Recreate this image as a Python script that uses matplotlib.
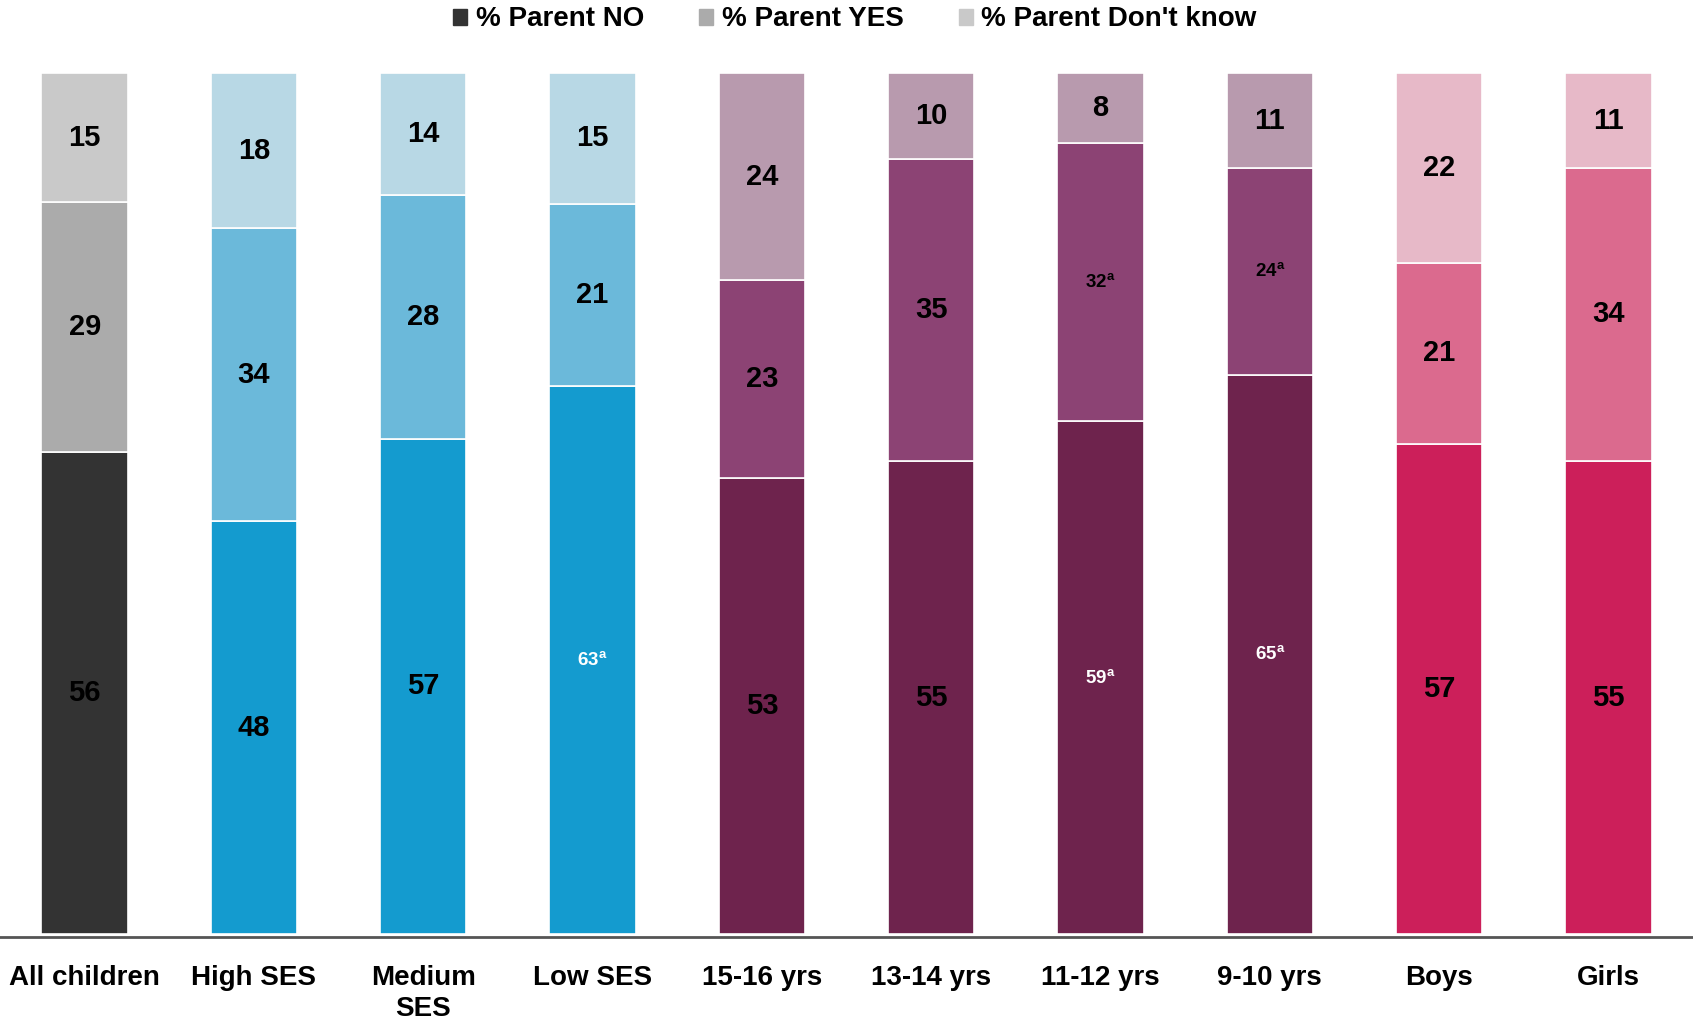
import numpy as np
import matplotlib
matplotlib.use("Agg")
import matplotlib.pyplot as plt
from matplotlib.patches import Patch

plt.rcParams["font.family"] = ["Liberation Sans", "DejaVu Sans"]
plt.rcParams["mathtext.fontset"] = "custom"
plt.rcParams["mathtext.rm"] = "Liberation Sans:bold"
plt.rcParams["mathtext.it"] = "Liberation Sans:bold"
plt.rcParams["mathtext.bf"] = "Liberation Sans:bold"

groups = ["All children", "High SES", "Medium\nSES", "Low SES", "15-16 yrs",
          "13-14 yrs", "11-12 yrs", "9-10 yrs", "Boys", "Girls"]
parent_no = [56, 48, 57, 63, 53, 55, 59, 65, 57, 55]
parent_yes = [29, 34, 28, 21, 23, 35, 32, 24, 21, 34]
parent_dk = [15, 18, 14, 15, 24, 10, 8, 11, 22, 11]
# values marked with superscript "a" in the source
flag_no = [False, False, False, True, False, False, True, True, False, False]
flag_yes = [False, False, False, False, False, False, True, True, False, False]

# colour sets per group: (no, yes, don't know)
pal_all = ("#333333", "#ABABAB", "#C9C9C9")
pal_ses = ("#149BCF", "#6BB9DA", "#B8D8E5")
pal_age = ("#6E234D", "#8C4374", "#B89AAE")
pal_sex = ("#CC1F5A", "#DB6A8E", "#E7B9C8")
palettes = [pal_all] + [pal_ses] * 3 + [pal_age] * 4 + [pal_sex] * 2

no = np.array(parent_no, float)
yes = np.array(parent_yes, float)
dk = np.array(parent_dk, float)
tot = no + yes + dk
# stacked to 100%
s_no, s_yes, s_dk = no / tot * 100, yes / tot * 100, dk / tot * 100

fig = plt.figure(figsize=(16.93, 10.24), dpi=100)
ax = fig.add_axes([0, 0.085, 1, 0.8435])
x = np.arange(len(groups))
w = 0.51
c_no = [p[0] for p in palettes]
c_yes = [p[1] for p in palettes]
c_dk = [p[2] for p in palettes]
ax.bar(x, s_no, w, color=c_no, edgecolor="white", linewidth=1.2)
ax.bar(x, s_yes, w, bottom=s_no, color=c_yes, edgecolor="white", linewidth=1.2)
ax.bar(x, s_dk, w, bottom=s_no + s_yes, color=c_dk, edgecolor="white", linewidth=1.2)

def label(xi, y, v, flag, col):
    if flag:
        ax.text(xi, y, r"$%d^{\mathbf{a}}$" % v, ha="center", va="center",
                fontsize=13.5, color=col)
    else:
        ax.text(xi, y, "%d" % v, ha="center", va="center",
                fontsize=21, fontweight="bold", color=col)

for i in x:
    col_no = "white" if flag_no[i] else "black"
    label(i, s_no[i] / 2, parent_no[i], flag_no[i], col_no)
    label(i, s_no[i] + s_yes[i] / 2, parent_yes[i], flag_yes[i], "black")
    label(i, s_no[i] + s_yes[i] + s_dk[i] / 2, parent_dk[i], False, "black")

ax.set_xlim(-0.5, len(groups) - 0.5)
ax.set_ylim(-0.3, 100)
ax.set_yticks([])
ax.set_xticks(x)
ax.set_xticklabels(groups, fontsize=20, fontweight="bold", linespacing=1.25)
ax.tick_params(axis="x", length=0, pad=20)
for s in ["top", "right", "left"]:
    ax.spines[s].set_visible(False)
ax.spines["bottom"].set_color("#555555")
ax.spines["bottom"].set_linewidth(2)

handles = [Patch(color="#333333", label="% Parent NO"),
           Patch(color="#ABABAB", label="% Parent YES"),
           Patch(color="#C9C9C9", label="% Parent Don't know")]
leg = fig.legend(handles=handles, loc="center", bbox_to_anchor=(0.505, 0.981), ncol=3,
                 frameon=False, prop={"weight": "bold", "size": 20},
                 handlelength=0.5, handleheight=0.5, handletextpad=0.3, columnspacing=2.0)

fig.savefig("out.png", dpi=100)
